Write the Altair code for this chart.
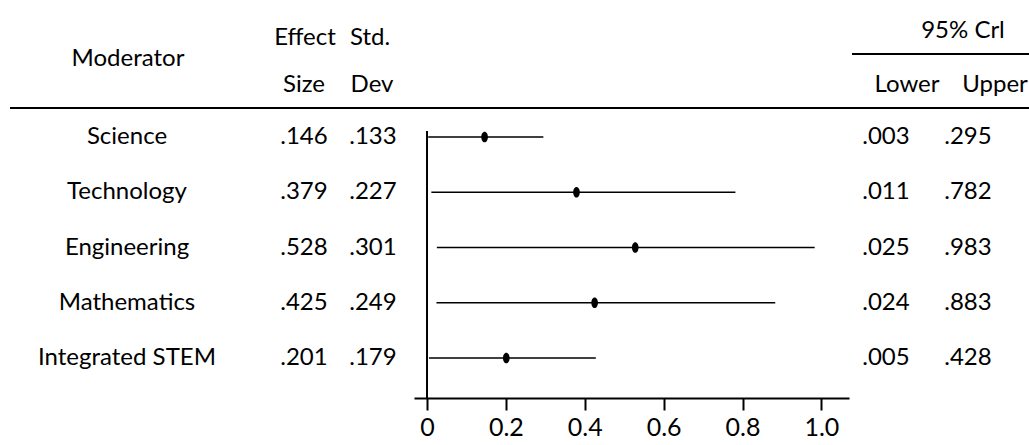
import altair as alt
import pandas as pd

# Meta-analysis results by STEM moderator
moderators = ["Science", "Technology", "Engineering", "Mathematics", "Integrated STEM"]
effect_size = [0.146, 0.379, 0.528, 0.425, 0.201]
std_dev = [0.133, 0.227, 0.301, 0.249, 0.179]
cri_lower = [0.003, 0.011, 0.025, 0.024, 0.005]
cri_upper = [0.295, 0.782, 0.983, 0.883, 0.428]

tick_values = [0, 0.2, 0.4, 0.6, 0.8, 1.0]
tick_labels = ["0", "0.2", "0.4", "0.6", "0.8", "1.0"]

FONT = "Lato"
FS = 24

table = pd.DataFrame({
    "moderator": moderators,
    "es": effect_size,
    "sd": std_dev,
    "lo": cri_lower,
    "hi": cri_upper,
})

one = pd.DataFrame({"k": [0]})

x_scale = alt.Scale(domain=[-0.033, 1.07], range=[414, 849], nice=False, zero=False)
y_scale = alt.Scale(type="point", domain=moderators, range=[137, 358], padding=0)

label_expr = " : ".join(
    f"datum.value == {v} ? '{t}'" for v, t in zip(tick_values, tick_labels)
) + " : ''"

base = alt.Chart(table).transform_calculate(
    es_txt="substring(format(datum.es, '.3f'), 1)",
    sd_txt="substring(format(datum.sd, '.3f'), 1)",
    lo_txt="substring(format(datum.lo, '.3f'), 1)",
    hi_txt="substring(format(datum.hi, '.3f'), 1)",
)

y_enc = alt.Y("moderator:N", scale=y_scale, axis=None)

# Credible-interval segments
intervals = base.mark_rule(color="black", strokeWidth=1.7).encode(
    x=alt.X(
        "lo:Q",
        scale=x_scale,
        axis=alt.Axis(values=tick_values, labelExpr=label_expr, title=None, grid=False),
    ),
    x2="hi:Q",
    y=y_enc,
)

# Posterior mean effect sizes
dots = base.mark_point(
    shape="M-0.62,0A0.62,1,0,1,0,0.62,0A0.62,1,0,1,0,-0.62,0Z",
    filled=True,
    color="black",
    opacity=1,
    size=115,
).encode(x=alt.X("es:Q", scale=x_scale), y=y_enc)

# Vertical reference line at zero
zero_line = alt.Chart(one).mark_rule(color="black", strokeWidth=2).encode(
    x=alt.datum(0, scale=x_scale), y=alt.value(131), y2=alt.value(398)
)


def column(field, xpos):
    return base.mark_text(
        font=FONT, fontSize=FS, color="black", align="center", baseline="middle"
    ).encode(text=f"{field}:N", x=alt.value(xpos), y=y_enc)


def label(text, xpos, ybase):
    return alt.Chart(one).mark_text(
        font=FONT, fontSize=FS, color="black", align="center", baseline="alphabetic"
    ).encode(text=alt.value(text), x=alt.value(xpos), y=alt.value(ybase))


def hline(x0, x1, ypos, width=1.8):
    return alt.Chart(one).mark_rule(color="black", strokeWidth=width).encode(
        x=alt.value(x0), x2=alt.value(x1), y=alt.value(ypos)
    )


layers = [
    intervals,
    dots,
    zero_line,
    column("moderator", 127),
    column("es_txt", 304),
    column("sd_txt", 373),
    column("lo_txt", 886),
    column("hi_txt", 968),
    label("Moderator", 128, 66),
    label("Effect", 305, 45),
    label("Size", 304, 92),
    label("Std.", 370, 45),
    label("Dev", 372, 92),
    label("95% Crl", 963, 38),
    label("Lower", 907, 92),
    label("Upper", 995, 92),
    hline(852, 1029, 54),
    hline(10, 1029, 108),
]

chart = (
    alt.layer(*layers)
    .properties(
        width=1029,
        height=398,
        autosize=alt.AutoSizeParams(type="none"),
        padding={"left": 0, "top": 0, "right": 0, "bottom": 47},
        background="white",
    )
    .configure_view(stroke=None)
    .configure_axis(
        domainColor="black",
        domainWidth=2.2,
        tickColor="black",
        tickWidth=2,
        tickSize=12,
        labelFont=FONT,
        labelFontSize=25,
        labelColor="black",
        labelPadding=5,
    )
)

chart.save("out.html", embed_options={"renderer": "svg", "actions": False})
